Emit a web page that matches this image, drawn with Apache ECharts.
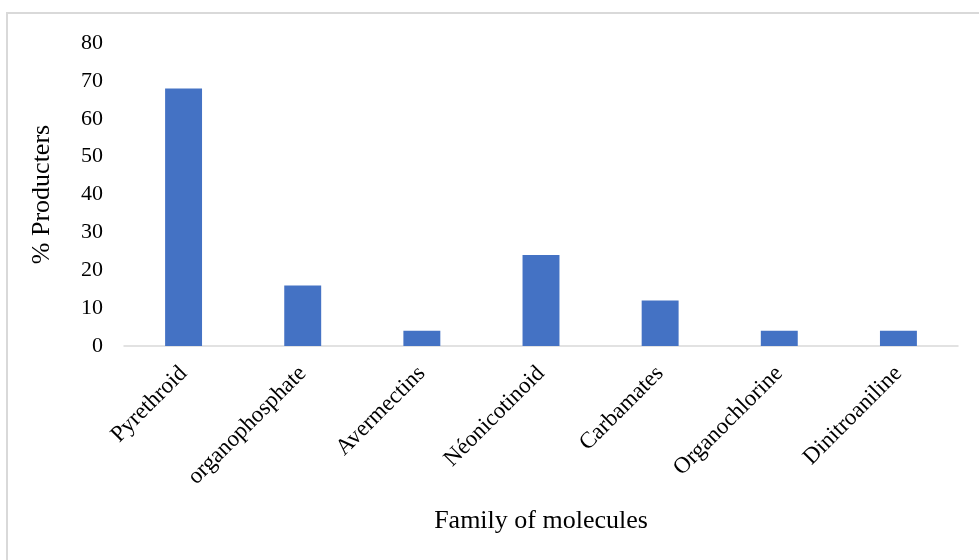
<!DOCTYPE html>
<html>
<head>
<meta charset="utf-8">
<script src="https://cdn.jsdelivr.net/npm/echarts@6/dist/echarts.min.js"></script>
<style>
html,body{margin:0;padding:0;background:#fff;}
#chart{width:979px;height:560px;}
</style>
</head>
<body>
<div id="chart"></div>
<script>
// Share of producers using each pesticide family
const families = ['Pyrethroid', 'organophosphate', 'Avermectins', 'Néonicotinoid', 'Carbamates', 'Organochlorine', 'Dinitroaniline'];
const producerShare = [68, 16, 4, 24, 12, 4, 4];
const yTicks = { min: 0, max: 80, interval: 10 };

const FONT = '"Liberation Serif", "Times New Roman", serif';
const chart = echarts.init(document.getElementById('chart'), null, { renderer: 'canvas' });

chart.setOption({
  backgroundColor: '#fff',
  animation: false,
  graphic: [{
    // chart-area frame; only its top and left edges fall inside the canvas
    type: 'rect',
    shape: { x: 7, y: 13, width: 1000, height: 600 },
    style: { fill: 'none', stroke: '#d9d9d9', lineWidth: 2 },
    silent: true
  }],
  grid: { left: 124, right: 21, top: 43, bottom: 214 },
  xAxis: {
    type: 'category',
    data: families,
    axisLine: { show: true, lineStyle: { color: '#d9d9d9', width: 1.5 } },
    axisTick: { show: false },
    axisLabel: {
      rotate: 45,
      interval: 0,
      margin: 24,
      fontFamily: FONT,
      fontSize: 23,
      color: '#000'
    },
    name: 'Family of molecules',
    nameLocation: 'middle',
    nameGap: 162,
    nameTextStyle: { fontFamily: FONT, fontSize: 26, color: '#000' }
  },
  yAxis: {
    type: 'value',
    min: yTicks.min,
    max: yTicks.max,
    interval: yTicks.interval,
    splitLine: { show: false },
    axisLine: { show: false },
    axisTick: { show: false },
    axisLabel: { fontFamily: FONT, fontSize: 22, color: '#000', margin: 21 },
    name: '% Producters',
    nameLocation: 'middle',
    nameGap: 69,
    nameRotate: 90,
    nameTextStyle: { fontFamily: FONT, fontSize: 26, color: '#000' }
  },
  series: [{
    type: 'bar',
    data: producerShare,
    barWidth: '31%',
    itemStyle: { color: '#4472c4' }
  }]
});
</script>
</body>
</html>
